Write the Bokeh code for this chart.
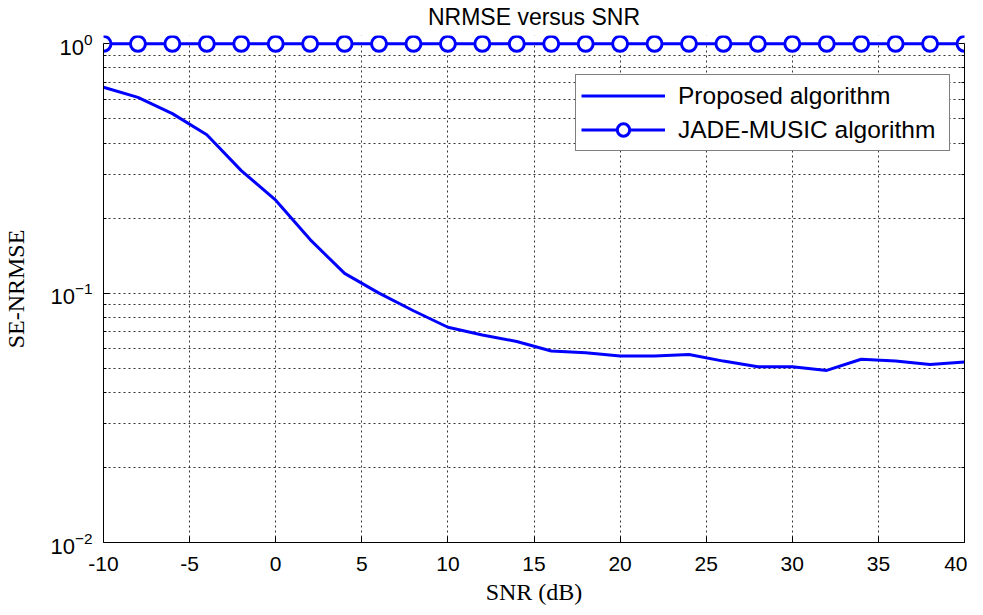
from bokeh.plotting import figure
from bokeh.models import (LogAxis, FixedTicker, Range1d, BoxAnnotation,
                          CustomJSTickFormatter)
from bokeh.embed import file_html
from bokeh.resources import INLINE

# ---- data ----
snr = [-10, -8, -6, -4, -2, 0, 2, 4, 6, 8, 10, 12, 14, 16, 18, 20,
       22, 24, 26, 28, 30, 32, 34, 36, 38, 40]
proposed = [0.67, 0.61, 0.525, 0.432, 0.31, 0.236, 0.164, 0.12, 0.10,
            0.085, 0.073, 0.068, 0.064, 0.0586, 0.0577, 0.056, 0.056,
            0.0568, 0.0534, 0.0507, 0.0507, 0.049, 0.0543, 0.0534,
            0.0517, 0.053]
jade_music = [1.0, 1.0, 1.0, 1.0, 1.0, 1.0, 1.0, 1.0, 1.0, 1.0, 1.0, 1.0,
              1.0, 1.0, 1.0, 1.0, 1.0, 1.0, 1.0, 1.0, 1.0, 1.0, 1.0, 1.0,
              1.0, 1.0]
x_ticks = [-10, -5, 0, 5, 10, 15, 20, 25, 30, 35, 40]
x_tick_labels = ["-10", "-5", "0", "5", "10", "15", "20", "25", "30", "35", "40"]
y_ticks = [0.01, 0.1, 1.0]
y_minor_ticks = [0.02, 0.03, 0.04, 0.05, 0.06, 0.07, 0.08, 0.09,
                 0.2, 0.3, 0.4, 0.5, 0.6, 0.7, 0.8, 0.9]
series_names = ["Proposed algorithm", "JADE-MUSIC algorithm"]
title_text = "NRMSE versus SNR"
x_label = "SNR (dB)"
y_label = "SE-NRMSE"

BLUE = "#0000FF"
TICK_FONT = "Liberation Sans"
LABEL_FONT = "Liberation Serif"
GRID = "#333333"

p = figure(width=967, height=607,
           x_range=Range1d(-10, 40), y_range=Range1d(0.01, 1.08),
           y_axis_type="log", output_backend="svg", toolbar_location=None,
           title=title_text,
           min_border_left=99, min_border_right=3,
           min_border_top=35, min_border_bottom=63)

p.background_fill_color = "white"
p.border_fill_color = "white"
p.outline_line_color = None

# title
p.title.text_font = TICK_FONT
p.title.text_font_size = "23px"
p.title.text_font_style = "normal"
p.title.align = "center"
p.title.vertical_align = "top"
p.title.text_color = "black"
p.title.standoff = 7

# axes
xa = p.xaxis[0]
xa.ticker = FixedTicker(ticks=x_ticks)
xa.major_label_overrides = {t: l for t, l in zip(x_ticks, x_tick_labels)}
xa.axis_label = x_label
ya = p.yaxis[0]
ya.ticker = FixedTicker(ticks=y_ticks, minor_ticks=y_minor_ticks)
ya.bounds = (0.01, 1.0)
ya.axis_label = y_label

for ax in (xa, ya):
    ax.major_tick_in = 6
    ax.major_tick_out = 0
    ax.minor_tick_out = 0
    ax.axis_line_color = "black"
    ax.major_tick_line_color = "black"
    ax.minor_tick_line_color = "black"
    ax.major_label_text_font = TICK_FONT
    ax.major_label_text_font_size = "21px"
    ax.major_label_text_color = "black"
    ax.axis_label_text_font = LABEL_FONT
    ax.axis_label_text_font_size = "24px"
    ax.axis_label_text_font_style = "normal"
    ax.axis_label_text_color = "black"
ya.major_label_text_font_size = "22px"
xa.minor_tick_in = 0
ya.minor_tick_in = 3
xa.major_label_standoff = 14
xa.axis_label_standoff = 5
ya.major_label_standoff = 11
ya.axis_label_standoff = 18

# right box axis (ticks only)
right = LogAxis(ticker=FixedTicker(ticks=y_ticks, minor_ticks=y_minor_ticks),
                formatter=CustomJSTickFormatter(code="return ''"),
                bounds=(0.01, 1.0),
                major_tick_in=6, major_tick_out=0, minor_tick_in=3,
                minor_tick_out=0, major_label_standoff=0,
                axis_line_color="black")
p.add_layout(right, "right")

# grid
for g in (p.xgrid, p.ygrid):
    g.grid_line_color = GRID
    g.grid_line_dash = "2 3"
    g.grid_line_width = 1
p.ygrid.minor_grid_line_color = GRID
p.ygrid.minor_grid_line_dash = "2 3"
p.ygrid.minor_grid_line_width = 1

# white strip above the 10^0 line (outside the MATLAB box)
p.add_layout(BoxAnnotation(bottom=1.0, fill_color="white", fill_alpha=1.0,
                           line_color=None, level="underlay"))

# series
p.line(snr, proposed, line_width=3, line_color=BLUE,
       legend_label=series_names[0])
p.line(snr, jade_music, line_width=3, line_color=BLUE,
       legend_label=series_names[1])
p.scatter(snr, jade_music, marker="circle", size=15, line_width=3,
          line_color=BLUE, fill_color="white",
          legend_label=series_names[1])

# legend
lg = p.legend[0]
lg.location = (472, 391)
lg.margin = 0
lg.padding = 5
lg.spacing = 3
lg.glyph_width = 84
lg.glyph_height = 31
lg.label_height = 31
lg.label_width = 266
lg.label_standoff = 13
lg.label_text_font = TICK_FONT
lg.label_text_font_size = "24.5px"
lg.label_text_color = "black"
lg.border_line_color = "black"
lg.border_line_width = 1
lg.background_fill_color = "white"
lg.background_fill_alpha = 1.0

open("out.html", "w").write(file_html(p, INLINE))
